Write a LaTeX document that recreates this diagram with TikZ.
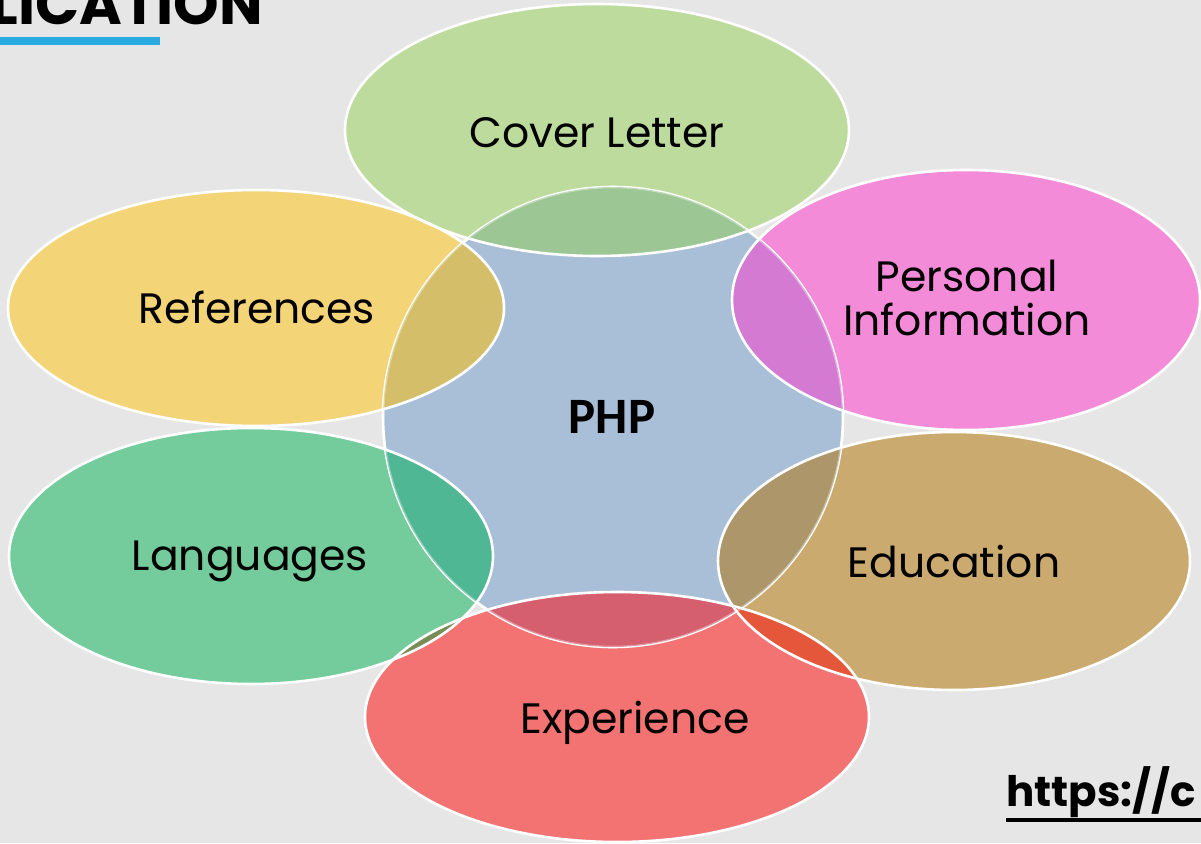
\documentclass[tikz,border=0pt]{standalone}
\usepackage{fontspec}
\setmainfont{Poppins}
\newfontfamily\phpfont{Carlito}
\begin{document}
\begin{tikzpicture}[x=1pt,y=-1pt,
  lbl/.style={font=\fontsize{42.5}{45}\selectfont, text=black, inner sep=0pt, anchor=base, align=center},
  rim/.style={draw=white, line width=2.6pt}]
\useasboundingbox (0,0) rectangle (1201,843);
\fill[fill={rgb,255:red,230;green,230;blue,230}] (0,0) rectangle (1201,843);
% colours
\definecolor{cbg}{RGB}{230,230,230}
\definecolor{cphp}{RGB}{169,191,216}
\definecolor{ccov}{RGB}{189,219,156}
\definecolor{ccovx}{RGB}{156,199,148}
\definecolor{cref}{RGB}{243,212,119}
\definecolor{crefx}{RGB}{212,190,106}
\definecolor{cper}{RGB}{243,139,216}
\definecolor{cperx}{RGB}{212,122,210}
\definecolor{cedu}{RGB}{203,170,112}
\definecolor{cedux}{RGB}{172,150,106}
\definecolor{clan}{RGB}{116,204,156}
\definecolor{clanx}{RGB}{80,183,148}
\definecolor{cexp}{RGB}{243,115,115}
\definecolor{cexpx}{RGB}{213,95,110}
\definecolor{cee}{RGB}{229,87,58}
\definecolor{cel}{RGB}{120,140,85}
\definecolor{cblue}{RGB}{41,171,226}
% shapes
\def\PHP{(613,417) circle[radius=230]}
\def\COV{(597,130) ellipse[x radius=252,y radius=126]}
\def\REF{(256,308) ellipse[x radius=248,y radius=118]}
\def\PER{(966,300) ellipse[x radius=234,y radius=130]}
\def\LAN{(251,556) ellipse[x radius=242,y radius=128]}
\def\EDU{(954,561) ellipse[x radius=236,y radius=129]}
\def\EXP{(617,717) ellipse[x radius=252,y radius=125]}
% fills
\fill[cphp] \PHP;
\fill[ccov] \COV; \fill[cref] \REF; \fill[cper] \PER;
\fill[clan] \LAN; \fill[cedu] \EDU; \fill[cexp] \EXP;
\draw[rim] \PHP;
% overlaps with centre
\begin{scope}\clip \PHP; \fill[ccovx] \COV; \end{scope}
\begin{scope}\clip \PHP; \fill[crefx] \REF; \end{scope}
\begin{scope}\clip \PHP; \fill[cperx] \PER; \end{scope}
\begin{scope}\clip \PHP; \fill[clanx] \LAN; \end{scope}
\begin{scope}\clip \PHP; \fill[cedux] \EDU; \end{scope}
\begin{scope}\clip \PHP; \fill[cexpx] \EXP; \end{scope}
% overlaps between neighbours
\begin{scope}\clip \EXP; \fill[cee] \EDU; \end{scope}
\begin{scope}\clip \EXP; \fill[cel] \LAN; \end{scope}
% rims
\draw[rim, draw opacity=0.35] \PHP;
\draw[rim] \COV; \draw[rim] \REF; \draw[rim] \PER;
\draw[rim] \EDU; \draw[rim] \EXP; \draw[rim] \LAN;
% labels
\node[lbl] (cov) at (597,147) {Cover Letter};
\node[lbl] (ref) at (257,323) {References};
\node[lbl] (per) at (967,335) {Personal\\[-1pt]Information};
\node[lbl] (lan) at (250,570) {Languages};
\node[lbl] (edu) at (954,577) {Education};
\node[lbl] (exp) at (635,733) {Experience};
\node[lbl, font=\phpfont\bfseries\fontsize{51}{55}\selectfont] (php) at (612,433) {PHP};
% header and footer fragments
\node[anchor=base east, inner sep=0pt, font=\bfseries\fontsize{58}{60}\selectfont] (title) at (263,25) {LICATION};
\fill[cblue] (0,37) rectangle (160,45);
\node[anchor=base west, inner sep=0pt, font=\bfseries\fontsize{42}{46}\selectfont] (url) at (1006,806) {https://c};
\fill[black] (1006,818) rectangle (1201,821.5);
\end{tikzpicture}
\end{document}
